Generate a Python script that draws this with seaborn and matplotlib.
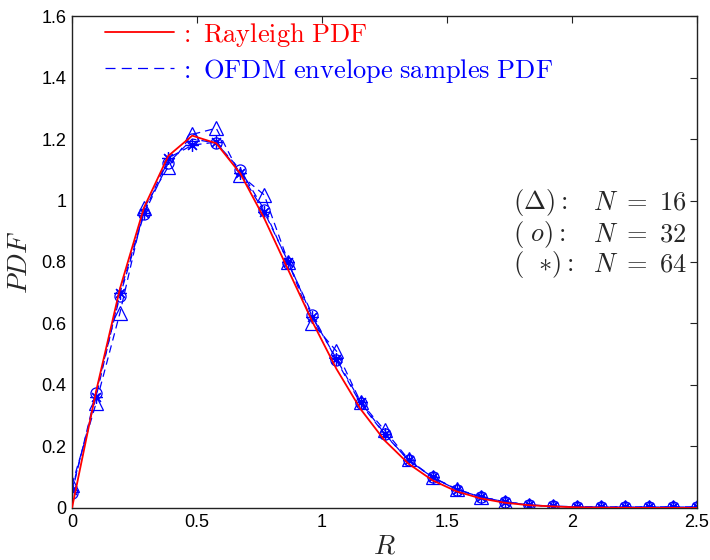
import matplotlib
matplotlib.use("Agg")
import matplotlib.pyplot as plt
from matplotlib.lines import Line2D
import numpy as np
import pandas as pd
import seaborn as sns

# ---- data ----
r_values = [0.0, 0.096, 0.192, 0.288, 0.385, 0.481, 0.577, 0.673, 0.769, 0.865,
            0.962, 1.058, 1.154, 1.250, 1.346, 1.442, 1.538, 1.635, 1.731, 1.827,
            1.923, 2.019, 2.115, 2.212, 2.308, 2.404, 2.500]
rayleigh_pdf = [0.0, 0.378, 0.714, 0.977, 1.145, 1.211, 1.186, 1.088, 0.942, 0.774,
                0.605, 0.452, 0.322, 0.220, 0.144, 0.090, 0.054, 0.031, 0.017, 0.009,
                0.005, 0.002, 0.001, 0.0005, 0.0002, 0.0001, 0.0]
pdf_n16 = [0.075, 0.34, 0.635, 0.975, 1.11, 1.215, 1.235, 1.083, 1.018, 0.80,
           0.60, 0.51, 0.345, 0.253, 0.158, 0.10, 0.062, 0.036, 0.02, 0.01,
           0.006, 0.004, 0.003, 0.003, 0.003, 0.003, 0.003]
pdf_n32 = [0.05, 0.375, 0.69, 0.956, 1.122, 1.20, 1.187, 1.10, 0.97, 0.797,
           0.628, 0.48, 0.34, 0.24, 0.155, 0.10, 0.06, 0.036, 0.02, 0.01,
           0.005, 0.004, 0.003, 0.003, 0.003, 0.003, 0.003]
pdf_n64 = [0.06, 0.36, 0.70, 0.96, 1.138, 1.18, 1.19, 1.09, 0.963, 0.80,
           0.62, 0.485, 0.345, 0.242, 0.155, 0.10, 0.06, 0.036, 0.02, 0.01,
           0.005, 0.004, 0.003, 0.003, 0.003, 0.003, 0.003]
x_ticks = [0, 0.5, 1, 1.5, 2, 2.5]
x_tick_labels = ["0", "0.5", "1", "1.5", "2", "2.5"]
y_ticks = [0, 0.2, 0.4, 0.6, 0.8, 1.0, 1.2, 1.4, 1.6]
y_tick_labels = ["0", "0.2", "0.4", "0.6", "0.8", "1", "1.2", "1.4", "1.6"]
legend_labels = [r"$:\ \mathrm{Rayleigh\ PDF}$", r"$:\ \mathrm{OFDM\ envelope\ samples\ PDF}$"]
annot_left = [r"$(\Delta):$", r"$(\ o):$", r"$(\ \ {*}):$"]
annot_right = [r"$N\ =\ 16$", r"$N\ =\ 32$", r"$N\ =\ 64$"]

sns.set_style("white")
plt.rcParams["font.family"] = ["Liberation Sans", "DejaVu Sans"]
plt.rcParams["mathtext.fontset"] = "cm"

fig = plt.figure(figsize=(7.1, 5.6), dpi=100)
ax = fig.add_axes([0.1014, 0.0929, 0.8803, 0.8785])

blue = "#0000ff"
series = [(pdf_n16, "^", 9.5), (pdf_n32, "o", 8), (pdf_n64, (8, 2, 0), 9)]
for vals, mk, ms in series:
    df = pd.DataFrame({"R": r_values, "PDF": vals})
    sns.lineplot(data=df, x="R", y="PDF", ax=ax, color=blue, linewidth=0.9,
                 linestyle=(0, (6, 4)), marker=mk, markersize=ms,
                 markerfacecolor="none", markeredgecolor=blue,
                 markeredgewidth=0.9, zorder=2)

df_r = pd.DataFrame({"R": r_values, "PDF": rayleigh_pdf})
sns.lineplot(data=df_r, x="R", y="PDF", ax=ax, color="red", linewidth=1.3, zorder=3)

ax.set_xlim(0, 2.5)
ax.set_ylim(0, 1.6)
ax.set_xticks(x_ticks)
ax.set_xticklabels(x_tick_labels)
ax.set_yticks(y_ticks)
ax.set_yticklabels(y_tick_labels)
ax.tick_params(direction="in", length=5, width=0.8, top=True, right=True,
               labelsize=13, colors="#222222", labelcolor="black", pad=4)
for sp in ax.spines.values():
    sp.set_visible(True)
    sp.set_color("#222222")
    sp.set_linewidth(1.0)

ax.set_xlabel(r"$R$", fontsize=20, labelpad=2)
ax.set_ylabel(r"$PDF$", fontsize=20, labelpad=6)

handles = [Line2D([], [], color="red", linewidth=1.3),
           Line2D([], [], color=blue, linewidth=0.9, linestyle=(0, (8, 5)))]
ax.legend(handles, legend_labels, loc="upper left", frameon=False, fontsize=19,
          labelcolor=["red", blue], handlelength=2.6, handletextpad=0.2,
          borderaxespad=0.0, labelspacing=0.3, bbox_to_anchor=(0.036, 1.012))

ys = [0.62, 0.555, 0.495]
for tl, tr, yv in zip(annot_left, annot_right, ys):
    ax.text(0.7056, yv, tl, transform=ax.transAxes, fontsize=19, ha="left", va="center")
    ax.text(0.834, yv, tr, transform=ax.transAxes, fontsize=19, ha="left", va="center")

fig.savefig("out.png", dpi=100)
